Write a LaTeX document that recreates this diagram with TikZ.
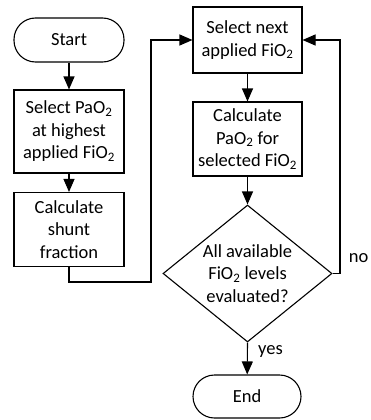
\documentclass[tikz,border=0pt]{standalone}
\usepackage{fontspec}
\setmainfont{Carlito}
\usetikzlibrary{arrows.meta,shapes.geometric}
\begin{document}
\begin{tikzpicture}[x=1pt,y=-1pt,
  every node/.style={font=\fontsize{18.5}{22.5}\selectfont, align=center, inner sep=0pt},
  term/.style={draw, line width=1.1pt, rounded corners=21.5pt, minimum width=110pt, minimum height=44pt},
  proc/.style={draw, line width=1.1pt, minimum width=110pt},
  arr/.style={line width=1.1pt, -{Triangle[width=11pt,length=13pt]}}]
\useasboundingbox (0,0) rectangle (370,420);
\node[term] (start) at (69,40) {Start};
\node[proc, minimum height=83pt] (b1) at (69,131.5) {Select PaO\textsubscript{2}\\at highest\\applied FiO\textsubscript{2}};
\node[proc, minimum height=74pt] (b2) at (69,229.5) {Calculate\\shunt\\fraction};
\node[proc, minimum width=109pt, minimum height=66pt] (b3) at (247.5,40) {Select next\\applied FiO\textsubscript{2}};
\node[proc, minimum width=109pt, minimum height=74pt] (b4) at (247.5,139) {Calculate\\PaO\textsubscript{2} for\\selected FiO\textsubscript{2}};
\node[draw, line width=1.1pt, diamond, aspect=1.2336, minimum width=169pt, minimum height=137pt] (d) at (247.5,273.5) {};
\node (dt) at (d.center) {All available\\FiO\textsubscript{2} levels\\evaluated?};
\node[term, minimum width=108pt, minimum height=43pt] (end) at (247,396.5) {End};
\coordinate (c1) at (151,282);
\coordinate (c2) at (340,273.5);
\draw[arr] (start) -- (b1);
\draw[arr] (b1) -- (b2);
\draw[arr] (b2.south) |- (c1) |- (b3.west);
\draw[arr] (b3) -- (b4);
\draw[arr] (b4) -- (d.north);
\draw[arr] (d.east) -- (c2) |- (b3.east);
\draw[arr] (d.south) -- (end);
\node[anchor=west] (yes) at (258,352) {yes};
\node[anchor=east] (no) at (368.5,258) {no};
\end{tikzpicture}
\end{document}
